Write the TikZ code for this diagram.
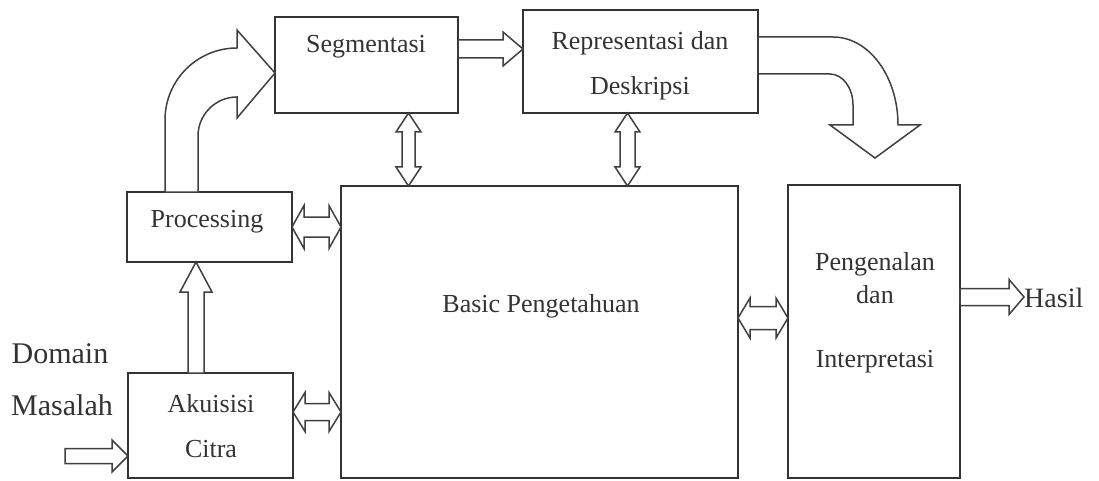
\documentclass[tikz,border=0pt]{standalone}
\usepackage{fontspec}
\setmainfont{Liberation Serif}
\usetikzlibrary{calc}

\tikzset{
  box/.style={draw=black!80, line width=1.8pt, inner sep=0pt, outer sep=0pt},
  blk/.style={draw=black!75, line width=1.5pt, line join=miter, fill=white},
  lbl/.style={text=black!80, inner sep=0pt, anchor=base, font=\fontsize{26}{30}\selectfont},
  big/.style={lbl, font=\fontsize{30}{34}\selectfont},
}

% horizontal block arrow: from anchor #1 to anchor #2 at height #3,
% shaft half-width #4, head half-width #5, head length #6
\newcommand\harr[6]{%
  \draw[blk] let \p1=(#1), \p2=(#2), \p3=(0,#3) in
    (\x1,\y3+#4) -- (\x2-#6,\y3+#4) -- (\x2-#6,\y3+#5) -- (\x2,\y3)
    -- (\x2-#6,\y3-#5) -- (\x2-#6,\y3-#4) -- (\x1,\y3-#4) -- cycle;}
% horizontal double block arrow
\newcommand\hdarr[6]{%
  \draw[blk] let \p1=(#1), \p2=(#2), \p3=(0,#3) in
    (\x1,\y3) -- (\x1+#6,\y3+#5) -- (\x1+#6,\y3+#4) -- (\x2-#6,\y3+#4)
    -- (\x2-#6,\y3+#5) -- (\x2,\y3) -- (\x2-#6,\y3-#5) -- (\x2-#6,\y3-#4)
    -- (\x1+#6,\y3-#4) -- (\x1+#6,\y3-#5) -- cycle;}
% vertical double block arrow between anchors #1 (upper) and #2 (lower) at column #3
\newcommand\vdarr[6]{%
  \draw[blk] let \p1=(#1), \p2=(#2), \p3=(#3,0) in
    (\x3,\y1) -- (\x3+#5,\y1-#6) -- (\x3+#4,\y1-#6) -- (\x3+#4,\y2+#6)
    -- (\x3+#5,\y2+#6) -- (\x3,\y2) -- (\x3-#5,\y2+#6) -- (\x3-#4,\y2+#6)
    -- (\x3-#4,\y1-#6) -- (\x3-#5,\y1-#6) -- cycle;}
% vertical upward block arrow from anchor #1 (lower) to anchor #2 (upper)
\newcommand\vuarr[6]{%
  \draw[blk] let \p1=(#1), \p2=(#2), \p3=(#3,0) in
    (\x3-#4,\y1) -- (\x3-#4,\y2-#6) -- (\x3-#5,\y2-#6) -- (\x3,\y2)
    -- (\x3+#5,\y2-#6) -- (\x3+#4,\y2-#6) -- (\x3+#4,\y1) -- cycle;}

\begin{document}
\begin{tikzpicture}[x=1pt, y=-1pt]
\useasboundingbox (0,0) rectangle (1099,481);

% boxes
\node[box, minimum width=183pt, minimum height=96pt]  (seg)   at (366.5,65)    {};
\node[box, minimum width=235pt, minimum height=103pt] (rep)   at (640.5,61.5)  {};
\node[box, minimum width=165pt, minimum height=70pt]  (proc)  at (209.5,227)   {};
\node[box, minimum width=165pt, minimum height=105pt] (aku)   at (210.5,425.5) {};
\node[box, minimum width=397pt, minimum height=292pt] (basic) at (539.5,332)   {};
\node[box, minimum width=172pt, minimum height=293pt] (peng)  at (874,331.5)   {};

% labels
\node[lbl] (segT)   at (366,53)  {Segmentasi};
\node[lbl] (repT1)  at (640,50)  {Representasi dan};
\node[lbl] (repT2)  at (640,95)  {Deskripsi};
\node[lbl] (procT)  at (207,227) {Processing};
\node[lbl] (akuT1)  at (211,412) {Akuisisi};
\node[lbl] (akuT2)  at (211,457) {Citra};
\node[lbl] (basicT) at (541,312) {Basic Pengetahuan};
\node[lbl] (pengT1) at (875,270) {Pengenalan};
\node[lbl] (pengT2) at (875,303) {dan};
\node[lbl] (pengT3) at (875,367) {Interpretasi};
\node[big] (dom)    at (60,363)  {Domain};
\node[big] (mas)    at (62,415)  {Masalah};
\node[lbl, anchor=base west, font=\fontsize{28}{32}\selectfont] (hasil) at (1024,307) {Hasil};

% input arrow
\coordinate (inStart) at (65,456);
\harr{inStart}{aku.west}{-456pt}{7.5pt}{16pt}{16pt}

% straight connectors
\harr{seg.east}{rep.west}{-49pt}{9pt}{17pt}{20pt}
\vuarr{aku.north}{proc.south}{196pt}{8pt}{16pt}{30pt}
\hdarr{proc.east}{basic.west}{-227pt}{10pt}{21.5pt}{12pt}
\hdarr{aku.east}{basic.west}{-412pt}{8.5pt}{19.5pt}{12pt}
\hdarr{basic.east}{peng.west}{-318pt}{11.5pt}{20pt}{12pt}
\vdarr{seg.south}{basic.north}{408.5pt}{6.5pt}{12.5pt}{19pt}
\vdarr{rep.south}{basic.north}{627.5pt}{7.5pt}{12.5pt}{19pt}
\harr{peng.east}{hasil.west}{-297pt}{8.5pt}{17.5pt}{15pt}

% curved arrow: Processing up into Segmentasi
\draw[blk] (165,192) -- (165,120)
  .. controls (165,80.2) and (197.2,48) .. (237,48)
  -- (237,30) -- (seg.west |- 0,73) -- (237,118) -- (237,97)
  .. controls (215.5,97) and (198,114.5) .. (198,136)
  -- (198,192) -- cycle;

% curved arrow: Representasi dan Deskripsi down towards Pengenalan
\draw[blk] (rep.east |- 0,37) -- (833,37)
  .. controls (868.9,37) and (898,76.4) .. (898,125)
  -- (920,125) -- (875,158) -- (830,125) -- (853,125) -- (853,105)
  .. controls (853,88) and (842.7,74) .. (830,74)
  -- (rep.east |- 0,74) -- cycle;
\end{tikzpicture}
\end{document}
